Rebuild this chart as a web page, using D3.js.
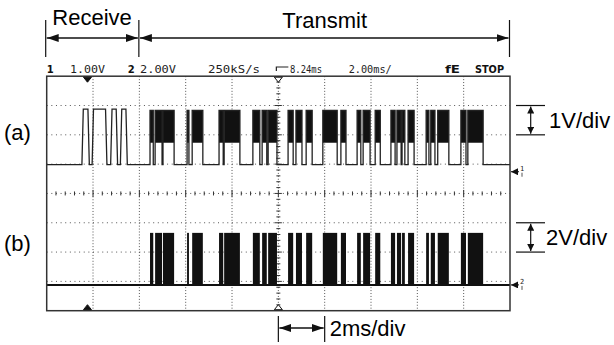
<!DOCTYPE html>
<html>
<head>
<meta charset="utf-8">
<script src="https://cdn.jsdelivr.net/npm/d3@7"></script>
<style>
  body { margin: 0; background: #fff; }
  .lbl { font-family: "Liberation Sans", Arial, sans-serif; font-size: 22px; fill: #000; }
  .scope { font-family: "DejaVu Sans Mono", monospace; font-size: 10px; fill: #222; }
  .scope-b { font-family: "DejaVu Sans", sans-serif; font-size: 10px; font-weight: bold; fill: #111; }
</style>
</head>
<body>
<script>
// Time in divisions (2 ms/div), voltages in volts
const rxPulses = [[0.77, 0.91], [0.99, 1.29], [1.39, 1.52], [1.60, 1.73]];
const txBursts = [
  [2.23, 2.30], [2.34, 2.49], [2.51, 2.75], [3.03, 3.07], [3.14, 3.37],
  [3.72, 3.81], [3.83, 4.17], [4.45, 4.60], [4.65, 4.75], [4.78, 4.97],
  [5.21, 5.32], [5.38, 5.51], [5.60, 5.73], [5.96, 6.27], [6.35, 6.46],
  [6.70, 6.78], [6.83, 6.98], [7.09, 7.20], [7.43, 7.52], [7.56, 7.65],
  [7.67, 7.73], [7.80, 7.93], [8.19, 8.25], [8.29, 8.38], [8.44, 8.68],
  [8.94, 9.05], [9.09, 9.42]
];
const levelsA = [0, 1.9, 1.85, 0.75];  // base, rx high, tx high, tx envelope low (1 V/div)
const levelsB = [0, 3.55];             // base, tx high (2 V/div)
const statusLabels = ["1", "1.00V", "2", "2.00V", "250kS/s", "8.24ms", "2.00ms/", "fE", "STOP"];
const sideLabels = ["(a)", "(b)"];
const scaleLabels = ["1V/div", "2V/div", "2ms/div"];
const regionLabels = ["Receive", "Transmit"];

const WIDTH = 614, HEIGHT = 345;
const BOX = { left: 46.7, right: 510, top: 76.2, bottom: 310.7 };
const OFFSET_A = 0.98, OFFSET_B = -3.12;

const x = d3.scaleLinear().domain([0, 10]).range([BOX.left, BOX.right]);
const yDiv = d3.scaleLinear().domain([-4, 4]).range([BOX.bottom, BOX.top]);
const yA = d3.scaleLinear().domain([(-4 - OFFSET_A) * 1, (4 - OFFSET_A) * 1]).range([BOX.bottom, BOX.top]);
const yB = d3.scaleLinear().domain([(-4 - OFFSET_B) * 2, (4 - OFFSET_B) * 2]).range([BOX.bottom, BOX.top]);

const svg = d3.select("body").append("svg")
  .attr("width", WIDTH).attr("height", HEIGHT)
  .attr("viewBox", [0, 0, WIDTH, HEIGHT]);

const defs = svg.append("defs");
defs.append("marker").attr("id", "ah")
  .attr("viewBox", "0 0 12 8").attr("refX", 12).attr("refY", 4)
  .attr("markerWidth", 12).attr("markerHeight", 8).attr("markerUnits", "userSpaceOnUse")
  .attr("orient", "auto-start-reverse")
  .append("path").attr("d", "M0,0L12,4L0,8Z").attr("fill", "#111");
defs.append("marker").attr("id", "ahs")
  .attr("viewBox", "0 0 8 8").attr("refX", 8).attr("refY", 4)
  .attr("markerWidth", 7).attr("markerHeight", 7).attr("markerUnits", "userSpaceOnUse")
  .attr("orient", "auto-start-reverse")
  .append("path").attr("d", "M0,0L8,4L0,8Z").attr("fill", "#111");

// Grid: dotted lines
const grid = svg.append("g").attr("stroke", "#555").attr("stroke-width", 1);
grid.selectAll(".h").data([-3, -2, -1, 1, 2, 3]).join("line")
  .attr("x1", BOX.left).attr("x2", BOX.right)
  .attr("y1", d => yDiv(d)).attr("y2", d => yDiv(d))
  .attr("stroke-dasharray", "1 3.63");
grid.selectAll(".v").data([1, 2, 3, 4, 6, 7, 8, 9]).join("line")
  .attr("x1", d => x(d)).attr("x2", d => x(d))
  .attr("y1", BOX.top).attr("y2", BOX.bottom)
  .attr("stroke-dasharray", "1 1.93");

// Centre axes with minor ticks
const cy = yDiv(0), cx = x(5);
grid.append("line").attr("x1", BOX.left).attr("x2", BOX.right)
  .attr("y1", cy).attr("y2", cy).attr("stroke-dasharray", "1 3.63");
grid.append("line").attr("y1", BOX.top).attr("y2", BOX.bottom)
  .attr("x1", cx).attr("x2", cx).attr("stroke-dasharray", "1 1.93");
grid.selectAll(".tx").data(d3.range(0.2, 10, 0.2)).join("line")
  .attr("x1", d => x(d)).attr("x2", d => x(d))
  .attr("y1", d => cy - (Math.abs(d - Math.round(d)) < 0.01 ? 3.5 : 2))
  .attr("y2", d => cy + (Math.abs(d - Math.round(d)) < 0.01 ? 3.5 : 2))
  .attr("stroke", "#333");
grid.selectAll(".ty").data(d3.range(-3.8, 4, 0.2)).join("line")
  .attr("y1", d => yDiv(d)).attr("y2", d => yDiv(d))
  .attr("x1", d => cx - (Math.abs(d - Math.round(d)) < 0.01 ? 3.5 : 2))
  .attr("x2", d => cx + (Math.abs(d - Math.round(d)) < 0.01 ? 3.5 : 2))
  .attr("stroke", "#333");

// Trace (a)
const [baseA, rxHi, txHiA, txLoA] = levelsA;
const ptsA = [[0, baseA]];
rxPulses.forEach(([s, e]) => {
  ptsA.push([s - 0.01, baseA], [s + 0.02, rxHi], [e - 0.02, rxHi], [e + 0.01, baseA]);
});
txBursts.forEach(([s, e]) => {
  ptsA.push([s, baseA], [s, txHiA], [e, txHiA], [e, baseA]);
});
ptsA.push([10, baseA]);
const lineA = d3.line().x(d => x(d[0])).y(d => yA(d[1]));
svg.append("g").selectAll("rect").data(txBursts).join("rect")
  .attr("x", d => x(d[0])).attr("width", d => x(d[1]) - x(d[0]))
  .attr("y", yA(txHiA)).attr("height", yA(txLoA) - yA(txHiA))
  .attr("fill", "#111");
svg.append("path").datum(ptsA).attr("d", lineA)
  .attr("fill", "none").attr("stroke", "#222").attr("stroke-width", 1.3);

// Trace (b)
const [baseB, txHiB] = levelsB;
svg.append("g").selectAll("rect").data(txBursts).join("rect")
  .attr("x", d => x(d[0])).attr("width", d => x(d[1]) - x(d[0]))
  .attr("y", yB(txHiB)).attr("height", yB(baseB) - yB(txHiB))
  .attr("fill", "#111");
svg.append("line").attr("x1", x(0)).attr("x2", x(10))
  .attr("y1", yB(baseB)).attr("y2", yB(baseB))
  .attr("stroke", "#111").attr("stroke-width", 2);

// Screen border
svg.append("rect").attr("x", BOX.left).attr("y", BOX.top)
  .attr("width", BOX.right - BOX.left).attr("height", BOX.bottom - BOX.top)
  .attr("fill", "none").attr("stroke", "#333").attr("stroke-width", 1.5);

// Position markers
const tri = (px, py, dir, fill) => svg.append("path")
  .attr("d", `M${px - 4},${py}L${px + 4},${py}L${px},${py + dir * 5}Z`)
  .attr("fill", fill).attr("stroke", "#111").attr("stroke-width", 1);
tri(x(0.88), BOX.top + 1, 1, "#111");
tri(x(0.88), BOX.bottom - 1, -1, "#111");
tri(cx, BOX.top + 1, 1, "#fff");
tri(cx, BOX.bottom - 1, -1, "#fff");

// Ground markers on the right edge
[[yA(baseA) + 7, "1"], [yB(baseB), "2"]].forEach(([gy, t]) => {
  svg.append("line").attr("x1", BOX.right + 9).attr("x2", BOX.right + 1)
    .attr("y1", gy).attr("y2", gy).attr("stroke", "#111").attr("marker-end", "url(#ahs)");
  svg.append("text").attr("class", "scope").attr("x", BOX.right + 10).attr("y", gy - 1)
    .style("font-size", "7px").text(t);
  svg.append("line").attr("x1", BOX.right + 12).attr("x2", BOX.right + 12)
    .attr("y1", gy + 1).attr("y2", gy + 5).attr("stroke", "#555");
});

// Status line
const statusX = [46.7, 70, 127.7, 140, 208, 290, 348.7, 445, 475];
const statusW = [0, 35, 0, 36, 52, 32, 43, 15, 29];
const bold = [0, 2, 7, 8];
svg.append("g").selectAll("text").data(statusLabels).join("text")
  .attr("class", (d, i) => bold.includes(i) ? "scope-b" : "scope")
  .attr("x", (d, i) => statusX[i]).attr("y", 73)
  .attr("textLength", (d, i) => statusW[i] || null)
  .attr("lengthAdjust", "spacingAndGlyphs")
  .text(d => d);
svg.append("path").attr("d", `M${cx - 2},71V67H${cx + 10}`)
  .attr("fill", "none").attr("stroke", "#222").attr("stroke-width", 1.2);

// Region annotations at top
const topY = 38;
[x(0) - 1, x(2) - 0.5, x(10) - 0.5].forEach(px => {
  svg.append("line").attr("x1", px).attr("x2", px).attr("y1", 20).attr("y2", 57)
    .attr("stroke", "#111").attr("stroke-width", 1.2);
});
[[x(0) - 1, x(2) - 0.5], [x(2) - 0.5, x(10) - 0.5]].forEach(([a, b]) => {
  svg.append("line").attr("x1", a + 1).attr("x2", b - 1).attr("y1", topY).attr("y2", topY)
    .attr("stroke", "#111").attr("stroke-width", 1.3)
    .attr("marker-start", "url(#ah)").attr("marker-end", "url(#ah)");
});
svg.append("text").attr("class", "lbl").attr("x", (x(0) + x(2)) / 2 - 1).attr("y", 25)
  .attr("text-anchor", "middle").text(regionLabels[0]);
svg.append("text").attr("class", "lbl").attr("x", (x(2) + x(10)) / 2).attr("y", 28)
  .attr("text-anchor", "middle").text(regionLabels[1]);

// Side labels
svg.append("text").attr("class", "lbl").attr("x", 4).attr("y", yA(1.1) + 8).text(sideLabels[0]);
svg.append("text").attr("class", "lbl").attr("x", 4).attr("y", yDiv(-1.7) + 8).text(sideLabels[1]);

// Volts/div annotations
const vdiv = (d0, d1, label, tx) => {
  [d0, d1].forEach(d => svg.append("line").attr("x1", 516).attr("x2", 545)
    .attr("y1", yDiv(d)).attr("y2", yDiv(d)).attr("stroke", "#111").attr("stroke-width", 1.2));
  svg.append("line").attr("x1", 530.7).attr("x2", 530.7)
    .attr("y1", yDiv(d0) + 1).attr("y2", yDiv(d1) - 1)
    .attr("stroke", "#111").attr("stroke-width", 1.2)
    .attr("marker-start", "url(#ahs)").attr("marker-end", "url(#ahs)");
  svg.append("text").attr("class", "lbl").attr("x", tx).attr("y", (yDiv(d0) + yDiv(d1)) / 2 + 8).text(label);
};
vdiv(3, 2, scaleLabels[0], 549);
vdiv(-1, -2, scaleLabels[1], 546);

// Time/div annotation
[x(5), x(6)].forEach(px => svg.append("line").attr("x1", px).attr("x2", px)
  .attr("y1", 316).attr("y2", 342).attr("stroke", "#111").attr("stroke-width", 1.2));
svg.append("line").attr("x1", x(5) + 1).attr("x2", x(6) - 1).attr("y1", 328).attr("y2", 328)
  .attr("stroke", "#111").attr("stroke-width", 1.3)
  .attr("marker-start", "url(#ah)").attr("marker-end", "url(#ah)");
svg.append("text").attr("class", "lbl").attr("x", x(6) + 5).attr("y", 336).text(scaleLabels[2]);
</script>
</body>
</html>
